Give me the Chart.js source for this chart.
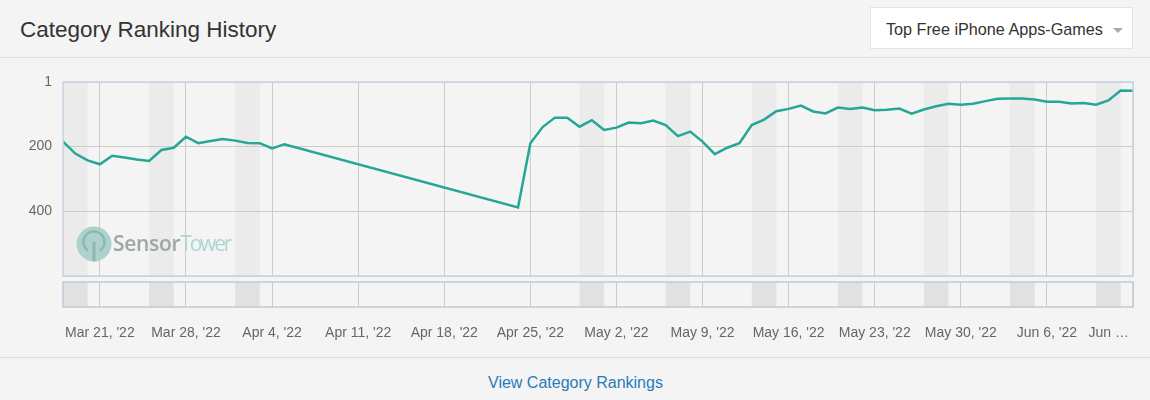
<!DOCTYPE html>
<html><head><meta charset="utf-8">
<script src="https://cdn.jsdelivr.net/npm/chart.js@4.4.1/dist/chart.umd.min.js"></script>
<style>
html,body{margin:0;padding:0;background:#f4f4f4;}
body{width:1150px;height:400px;overflow:hidden;position:relative;font-family:"Liberation Sans",Arial,sans-serif;}
#title{position:absolute;left:20px;top:19px;font-size:22.5px;line-height:22px;color:#333;white-space:nowrap;}
#hdrline{position:absolute;left:0;top:57px;width:1150px;height:1px;background:#dedede;}
#dd{position:absolute;left:870px;top:7px;width:261px;height:40px;background:#fff;border:1px solid #e4e4e4;}
#ddtext{position:absolute;left:15px;top:13px;font-size:16.2px;line-height:16px;color:#333;white-space:nowrap;}
#caret{position:absolute;left:242px;top:20px;width:0;height:0;border-left:5px solid transparent;border-right:5px solid transparent;border-top:5px solid #aaa;}
#main{position:absolute;left:0;top:60px;}
#nav{position:absolute;left:0;top:280px;}
#ftline{position:absolute;left:0;top:357px;width:1150px;height:1px;background:#dedede;}
#link{position:absolute;left:488px;top:375px;font-size:16px;line-height:16px;color:#2a7ab8;white-space:nowrap;}
#wmicon{position:absolute;left:76px;top:226px;}
#wmtext{position:absolute;left:113px;top:233px;font-family:"Open Sans",sans-serif;font-size:21px;line-height:21px;white-space:nowrap;}
#wmtext .a{color:#9fa6a6;font-weight:600;letter-spacing:-0.3px;}
#wmtext .b{color:#acd7d1;font-weight:400;letter-spacing:-2.2px;}
</style></head>
<body>
<div id="title">Category Ranking History</div>
<div id="hdrline"></div>
<div id="dd"><span id="ddtext">Top Free iPhone Apps-Games</span><div id="caret"></div></div>
<canvas id="main" width="1150" height="222"></canvas>
<canvas id="nav" width="1150" height="75"></canvas>
<svg id="wmicon" width="36" height="36" viewBox="0 0 36 36">
  <circle cx="18" cy="18" r="17.5" fill="#add2cd"/>
  <path d="M12 24.6 A10.5 10.5 0 1 1 24 24.6" fill="none" stroke="#8fb7b1" stroke-width="2.5"/>
  <line x1="18" y1="16" x2="18" y2="35.5" stroke="#8fb7b1" stroke-width="3"/>
</svg>
<div id="wmtext"><span class="a">Sensor</span><span class="b">Tower</span></div>
<div id="ftline"></div>
<div id="link">View Category Rankings</div>
<script>
const startDate = '2022-03-18';
const endDate = '2022-06-13';
const dates = [
 '2022-03-18','2022-03-19','2022-03-20','2022-03-21','2022-03-22','2022-03-23','2022-03-24','2022-03-25',
 '2022-03-26','2022-03-27','2022-03-28','2022-03-29','2022-03-30','2022-03-31','2022-04-01','2022-04-02',
 '2022-04-03','2022-04-04','2022-04-05',
 '2022-04-24','2022-04-25','2022-04-26','2022-04-27','2022-04-28','2022-04-29','2022-04-30','2022-05-01',
 '2022-05-02','2022-05-03','2022-05-04','2022-05-05','2022-05-06','2022-05-07','2022-05-08','2022-05-09',
 '2022-05-10','2022-05-11','2022-05-12','2022-05-13','2022-05-14','2022-05-15','2022-05-16','2022-05-17',
 '2022-05-18','2022-05-19','2022-05-20','2022-05-21','2022-05-22','2022-05-23','2022-05-24','2022-05-25',
 '2022-05-26','2022-05-27','2022-05-28','2022-05-29','2022-05-30','2022-05-31','2022-06-01','2022-06-02',
 '2022-06-03','2022-06-04','2022-06-05','2022-06-06','2022-06-07','2022-06-08','2022-06-09','2022-06-10',
 '2022-06-11','2022-06-12','2022-06-13'
];
const ranks = [
 185,222,243,255,229,234,240,245,
 211,204,170,190,183,177,182,189,
 190,206,193,
 388,190,140,111,111,139,119,149,
 142,126,128,120,134,168,154,185,
 224,204,190,134,117,91,84,74,
 92,98,80,84,80,88,87,83,
 99,86,76,68,71,68,60,53,
 52,52,55,62,62,67,66,71,
 58,27,28
];
const xTickDates = ['2022-03-21','2022-03-28','2022-04-04','2022-04-11','2022-04-18','2022-04-25','2022-05-02',
 '2022-05-09','2022-05-16','2022-05-23','2022-05-30','2022-06-06','2022-06-13'];
const xTickLabels = ["Mar 21, '22","Mar 28, '22","Apr 4, '22","Apr 11, '22","Apr 18, '22","Apr 25, '22","May 2, '22",
 "May 9, '22","May 16, '22","May 23, '22","May 30, '22","Jun 6, '22","Jun \u2026"];
const yTicks = [1, 200, 400, 600];
const yTickLabels = ['1', '200', '400', ''];
const weekendStarts = ['2022-03-18','2022-03-25','2022-04-01','2022-04-29','2022-05-06','2022-05-13',
 '2022-05-20','2022-05-27','2022-06-03','2022-06-10'];
const weekendDays = 2;

const day = s => (Date.parse(s + 'T00:00:00Z') - Date.parse(startDate + 'T00:00:00Z')) / 864e5;

function bandsPlugin(color) {
  return {
    id: 'bands',
    beforeDraw(chart) {
      const {ctx, chartArea: a, scales: {x}} = chart;
      ctx.save();
      ctx.fillStyle = color;
      weekendStarts.forEach(d => {
        const x0 = Math.max(a.left, x.getPixelForValue(day(d)));
        const x1 = Math.min(a.right, x.getPixelForValue(day(d) + weekendDays));
        ctx.fillRect(x0, a.top, x1 - x0, a.bottom - a.top);
      });
      ctx.restore();
    }
  };
}
function borderPlugin(color) {
  return {
    id: 'pborder',
    afterDraw(chart) {
      const {ctx, chartArea: a} = chart;
      ctx.save();
      ctx.strokeStyle = color;
      ctx.lineWidth = 1.5;
      ctx.strokeRect(a.left, a.top, a.right - a.left, a.bottom - a.top);
      ctx.restore();
    }
  };
}
const xLabelsPlugin = {
  id: 'xlabels',
  afterDraw(chart) {
    const {ctx, scales: {x}} = chart;
    ctx.save();
    ctx.font = '14px "Liberation Sans", Arial, sans-serif';
    ctx.fillStyle = '#666666';
    ctx.textBaseline = 'alphabetic';
    xTickDates.forEach((d, i) => {
      const px = x.getPixelForValue(day(d));
      if (i === xTickDates.length - 1) { ctx.textAlign = 'right'; ctx.fillText(xTickLabels[i], px - 4, 56.7); }
      else { ctx.textAlign = 'center'; ctx.fillText(xTickLabels[i], px, 56.7); }
    });
    ctx.restore();
  }
};

const xScaleBase = () => ({
  type: 'linear', min: 0, max: day(endDate),
  afterBuildTicks: s => { s.ticks = xTickDates.map(d => ({value: day(d)})); },
  ticks: {display: false},
  grid: {color: '#cccccc', drawTicks: false, lineWidth: 1},
  border: {display: false},
  afterFit: s => { s.height = 0; s.paddingLeft = 0; s.paddingRight = 0; }
});

new Chart(document.getElementById('main'), {
  type: 'line',
  data: {datasets: [{
    data: dates.map((d, i) => ({x: day(d), y: ranks[i]})),
    borderColor: '#25a696', borderWidth: 2.5, pointRadius: 0, tension: 0, fill: false
  }]},
  options: {
    responsive: false, animation: false, devicePixelRatio: 1,
    layout: {padding: {left: 0, right: 17, top: 22, bottom: 6}},
    plugins: {legend: {display: false}, tooltip: {enabled: false}},
    scales: {
      x: xScaleBase(),
      y: {
        type: 'linear', reverse: true, min: 1, max: 600,
        afterBuildTicks: s => { s.ticks = yTicks.map(v => ({value: v})); },
        ticks: {padding: 11, color: '#666666', font: {family: '"Liberation Sans", Arial, sans-serif', size: 14},
          callback: (v, i) => yTickLabels[i]},
        grid: {color: '#cccccc', drawTicks: false, lineWidth: 1},
        border: {display: false},
        afterFit: s => { s.width = 63; s.paddingTop = 0; s.paddingBottom = 0; }
      }
    }
  },
  plugins: [bandsPlugin('#ebebeb'), borderPlugin('#c6d2e1')]
});

new Chart(document.getElementById('nav'), {
  type: 'line',
  data: {datasets: []},
  options: {
    responsive: false, animation: false, devicePixelRatio: 1,
    layout: {padding: {left: 63, right: 17, top: 2, bottom: 48}},
    plugins: {legend: {display: false}, tooltip: {enabled: false}},
    scales: {
      x: xScaleBase(),
      y: {display: false, min: 0, max: 1}
    }
  },
  plugins: [bandsPlugin('#e1e1e1'), borderPlugin('#bfcad8'), xLabelsPlugin]
});
</script>
</body></html>
